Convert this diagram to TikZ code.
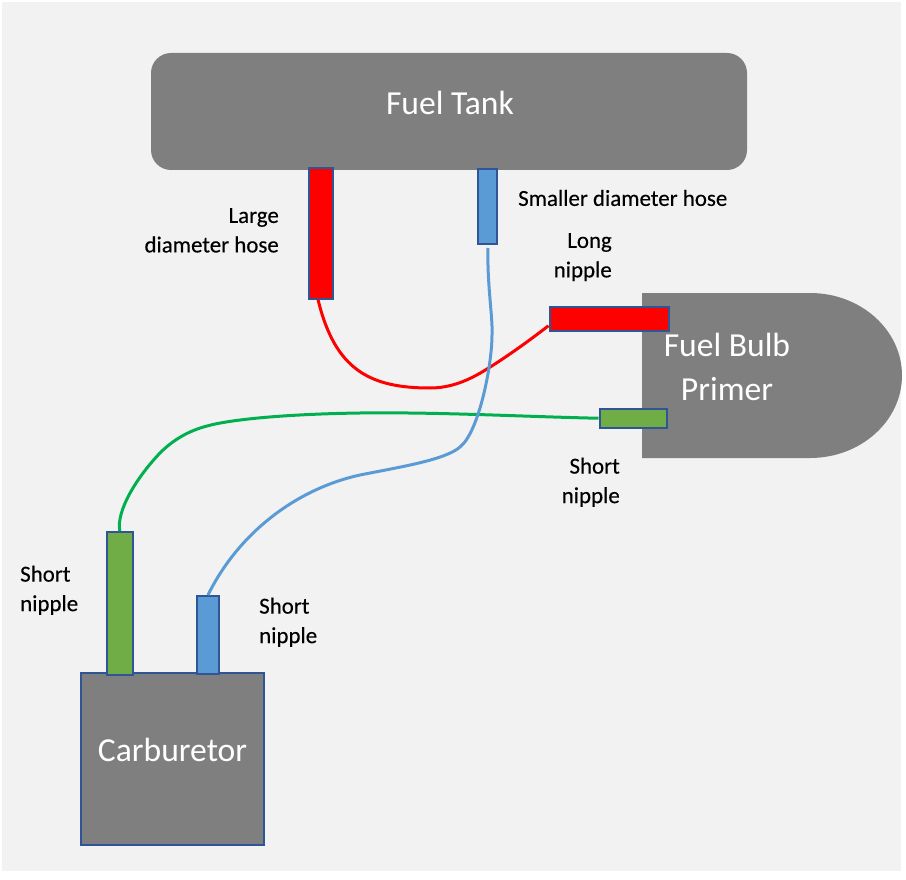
\documentclass[tikz,border=0pt]{standalone}
\usepackage{fontspec}
\setmainfont{Carlito}
\newfontfamily\labfont[FakeBold=0.3]{Carlito}
\definecolor{bgc}{HTML}{F2F2F2}
\definecolor{body}{HTML}{7F7F7F}
\definecolor{edge}{HTML}{2F5597}
\definecolor{hgreen}{HTML}{70AD47}
\definecolor{hblue}{HTML}{5B9BD5}
\definecolor{lgreen}{HTML}{00B050}
\tikzset{
  title/.style={text=white,font=\fontsize{33.6}{44}\selectfont,inner sep=0pt,align=center},
  lab/.style={text=black,font=\labfont\fontsize{22.9}{29.5}\selectfont,inner sep=0pt},
  hose/.style={draw=edge,line width=2pt,inner sep=0pt,rectangle},
  conn/.style={line width=3pt}
}
\newcommand{\hosebox}[6]{\node[hose,fill=#2,minimum width=#5-#3,minimum height=#6-#4] (#1) at ({(#3+#5)/2},{(#4+#6)/2}) {};}
\begin{document}
\begin{tikzpicture}[x=1pt,y=-1pt]
\useasboundingbox (0,0) rectangle (906,880);
\fill[bgc] (2,2) rectangle (901,871);
% tank
\node[fill=body,rounded corners=20pt,minimum width=596pt,minimum height=117pt,inner sep=0pt] (tank) at (449,111.5) {};
% bulb
\fill[body] (642,293) -- (810,293) .. controls (860.8,293) and (902,330) .. (902,375.5)
  .. controls (902,421) and (860.8,458) .. (810,458) -- (642,458) -- cycle;
% carburetor
\node[fill=body,draw=edge,line width=2pt,minimum width=183pt,minimum height=171.5pt,inner sep=0pt] (carb) at (172.5,759) {};
\coordinate (bluestart) at (488,248);
% hoses
\hosebox{htr}{red}{309}{168}{333}{298.5}
\hosebox{htb}{hblue}{477.5}{169}{497}{244}
\hosebox{hbr}{red}{549.5}{306.5}{668.5}{331}
\hosebox{hbg}{hgreen}{599.5}{408.5}{667}{428}
\hosebox{hcg}{hgreen}{106.5}{532}{133}{675}
\hosebox{hcb}{hblue}{197}{596}{219}{673.5}
% connectors
\draw[conn,red] ([xshift=-3pt]htr.south) .. controls (335,370) and (370,388) .. (430,388)
  .. controls (450,388) and (468,381) .. (487,369)
  .. controls (508,356) and (530,340) .. ([yshift=-7pt]hbr.west);
\draw[conn,lgreen] (hcg.north) .. controls (116,510) and (138,476) .. (160,453)
  .. controls (173,440) and (188,431) .. (207,426)
  .. controls (232,419) and (290,414) .. (360,413)
  .. controls (440,412) and (520,416.5) .. (hbg.west);
\draw[conn,hblue] (bluestart) .. controls (487,285) and (493,318) .. (492,335)
  .. controls (492,365) and (479,432) .. (460,447)
  .. controls (445,460) and (400,467) .. (360,475)
  .. controls (300,488) and (240,530) .. (hcb.north);
% titles
\node[title] (ttank) at (450,103) {Fuel Tank};
\node[title] (tbulb) at (727,345) {Fuel Bulb};
\node[title] (tprim) at (727,389) {Primer};
\node[title] (tcarb) at (172.5,750) {Carburetor};
% labels
\node[lab,align=right,anchor=north east] (l1) at (279,208) {Large\\diameter hose};
\node[lab,anchor=west] (l2) at (518,198) {Smaller diameter hose};
\node[lab,align=right,anchor=north east] (l3) at (612,233) {Long\\nipple};
\node[lab,align=right,anchor=north east] (l4) at (620,457.5) {Short\\nipple};
\node[lab,align=left,anchor=north west] (l5) at (20,565.5) {Short\\nipple};
\node[lab,align=left,anchor=north west] (l6) at (259,597.5) {Short\\nipple};
\end{tikzpicture}
\end{document}
